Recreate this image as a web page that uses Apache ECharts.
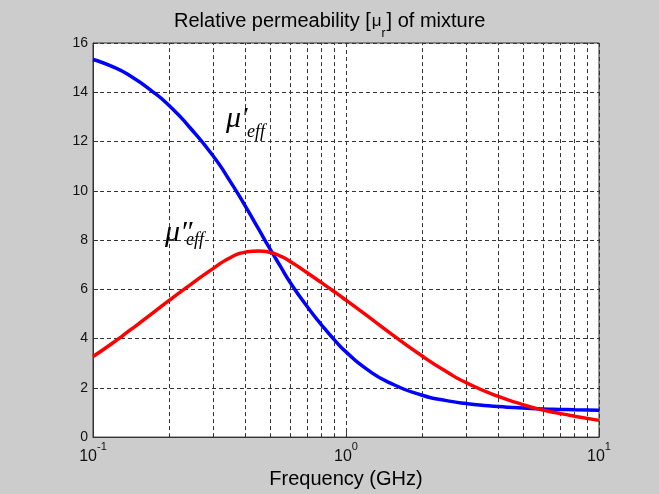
<!DOCTYPE html>
<html>
<head>
<meta charset="utf-8">
<style>
  html, body { margin: 0; padding: 0; background: #cccccc; }
  #main { width: 659px; height: 494px; }
</style>
<script src="https://cdn.jsdelivr.net/npm/echarts@6/dist/echarts.min.js"></script>
</head>
<body>
<div id="main"></div>
<script>
// frequency points (GHz)
const freq = [0.1, 0.12, 0.14, 0.17, 0.2, 0.24, 0.3, 0.35, 0.4, 0.45, 0.5, 0.55, 0.6, 0.7,
  0.8, 0.9, 1.0, 1.2, 1.5, 2, 2.5, 3, 4, 5, 6, 7, 8, 10];
// mu' (blue)
const muReal = [15.33, 15.03, 14.67, 14.07, 13.46, 12.6, 11.38, 10.35, 9.38, 8.47, 7.65, 6.94, 6.3, 5.32,
  4.56, 3.95, 3.46, 2.78, 2.19, 1.7, 1.48, 1.36, 1.24, 1.18, 1.145, 1.125, 1.11, 1.095];
// mu'' (red)
const muImag = [3.27, 3.83, 4.34, 4.99, 5.55, 6.15, 6.86, 7.29, 7.51, 7.56, 7.5, 7.35, 7.14, 6.68,
  6.27, 5.9, 5.56, 4.96, 4.21, 3.29, 2.65, 2.2, 1.65, 1.32, 1.1, 0.96, 0.85, 0.68];
// minor log grid lines
const minorFreq = [0.2, 0.3, 0.4, 0.5, 0.6, 0.7, 0.8, 0.9, 2, 3, 4, 5, 6, 7, 8, 9];

const gridColor = '#333';
const dash = [4, 3];
const sans = '"Liberation Sans", Arial, sans-serif';
const serif = '"Liberation Serif", "Times New Roman", serif';

const chart = echarts.init(document.getElementById('main'));

chart.setOption({
  animation: false,
  backgroundColor: '#cccccc',
  title: {
    text: '{a|Relative permeability [}{m|μ}{r|r}{a|] of mixture}',
    left: 174,
    top: 11,
    padding: 0,
    textStyle: {
      fontWeight: 'normal',
      rich: {
        a: { fontSize: 20, lineHeight: 20, fontFamily: sans, fontWeight: 'normal', color: '#000', verticalAlign: 'top' },
        m: { fontSize: 17, lineHeight: 20, fontFamily: sans, fontWeight: 'normal', color: '#000', verticalAlign: 'top', padding: [2, 0, 0, 1] },
        r: { fontSize: 12, lineHeight: 12, fontFamily: sans, fontWeight: 'normal', color: '#000', verticalAlign: 'top', padding: [17, 1, 0, 0] }
      }
    }
  },
  grid: {
    left: 93, right: 60, top: 43, bottom: 52,
    show: true,
    backgroundColor: '#fff',
    borderColor: gridColor,
    borderWidth: 1
  },
  xAxis: {
    type: 'log',
    logBase: 10,
    min: 0.1,
    max: 10,
    name: 'Frequency (GHz)',
    nameLocation: 'middle',
    nameGap: 24,
    nameTextStyle: { fontSize: 20, fontFamily: sans, color: '#000' },
    axisLine: { show: true, lineStyle: { color: gridColor } },
    axisTick: { inside: true, length: 5, lineStyle: { color: gridColor } },
    axisLabel: {
      margin: 4,
      formatter: v => '{b|10}{s|' + Math.round(Math.log10(v)) + '}',
      rich: {
        b: { fontSize: 16, lineHeight: 16, fontFamily: sans, color: '#111', verticalAlign: 'top', padding: [7, 0, 0, 0] },
        s: { fontSize: 11, lineHeight: 11, fontFamily: sans, color: '#111', verticalAlign: 'top' }
      }
    },
    splitLine: { show: true, lineStyle: { type: dash, color: gridColor, width: 1 } }
  },
  yAxis: {
    type: 'value',
    min: 0,
    max: 16,
    interval: 2,
    axisLine: { show: true, lineStyle: { color: gridColor } },
    axisTick: { inside: true, length: 5, lineStyle: { color: gridColor } },
    axisLabel: { fontSize: 14, fontFamily: sans, color: '#111', margin: 5 },
    splitLine: { show: true, lineStyle: { type: dash, color: gridColor, width: 1 } }
  },
  series: [
    {
      name: "mu'",
      type: 'line',
      data: freq.map((f, i) => [f, muReal[i]]),
      showSymbol: false,
      smooth: 0.6,
      lineStyle: { color: '#0000ff', width: 3.5 },
      z: 3
    },
    {
      name: "mu''",
      type: 'line',
      data: freq.map((f, i) => [f, muImag[i]]),
      showSymbol: false,
      smooth: 0.6,
      lineStyle: { color: '#ff0000', width: 3.5 },
      z: 3,
      markLine: {
        silent: true,
        z: 1,
        symbol: 'none',
        label: { show: false },
        lineStyle: { type: dash, color: gridColor, width: 1 },
        data: minorFreq.map(f => ({ xAxis: f }))
      }
    }
  ],
  graphic: [
    { type: 'text', x: 226, y: 119, style: { text: 'μ′', font: 'italic 30px ' + serif, fill: '#000', verticalAlign: 'middle' } },
    { type: 'text', x: 247, y: 132, style: { text: 'eff', font: 'italic 18px ' + serif, fill: '#000', verticalAlign: 'middle' } },
    { type: 'text', x: 165, y: 233, style: { text: 'μ″', font: 'italic 30px ' + serif, fill: '#000', verticalAlign: 'middle' } },
    { type: 'text', x: 186, y: 240, style: { text: 'eff', font: 'italic 18px ' + serif, fill: '#000', verticalAlign: 'middle' } }
  ]
});
</script>
</body>
</html>
